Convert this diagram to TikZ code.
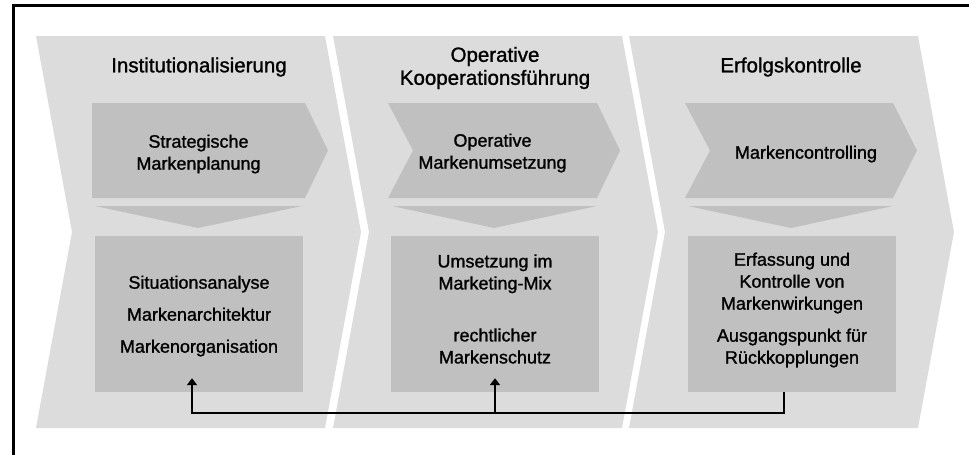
\documentclass[tikz,border=0pt]{standalone}
\usepackage{fontspec}
\setmainfont{Liberation Sans}[FakeBold=1.2]
\usetikzlibrary{arrows.meta}
\definecolor{phaselight}{RGB}{220,220,220}
\definecolor{phasedark}{RGB}{192,192,192}

\begin{document}
\begin{tikzpicture}[
  x=1pt, y=-1pt,
  phase/.style={fill=phaselight},
  stage/.style={fill=phasedark},
  box/.style={rectangle,fill=phasedark,minimum width=208pt,minimum height=156pt,inner sep=0pt},
  title/.style={align=center,inner sep=0pt,font=\fontsize{20.5}{23}\selectfont},
  body/.style={align=center,inner sep=0pt,font=\fontsize{18}{22}\selectfont},
  link/.style={line width=1.8pt,-{Triangle[length=7pt,width=10pt]}}
  ]
  \useasboundingbox (0,0) rectangle (969,455);
  % frame
  \draw[line width=2.5pt] (13.5,455) -- (13.5,5.5) -- (969,5.5);
  % the three phases
  \fill[phase] (36,36) -- (325,36) -- (361,232) -- (325,428) -- (36,428) -- (72,232) -- cycle;
  \fill[phase] (333,36) -- (622,36) -- (658,232) -- (622,428) -- (333,428) -- (369,232) -- cycle;
  \fill[phase] (629,36) -- (918,36) -- (954,232) -- (918,428) -- (629,428) -- (665,232) -- cycle;
  \fill[stage] (92,103) -- (305,103) -- (328,150.5) -- (305,198) -- (92,198) -- cycle;
  \fill[stage] (388,103) -- (597,103) -- (620,150.5) -- (597,198) -- (388,198) -- (413,150.5) -- cycle;
  \fill[stage] (685,103) -- (893,103) -- (917,150.5) -- (893,198) -- (685,198) -- (710,150.5) -- cycle;
  \fill[stage] (95,206) -- (302,206) -- (198,228) -- cycle;
  \fill[stage] (392,206) -- (597,206) -- (494,228) -- cycle;
  \fill[stage] (688,206) -- (893,206) -- (791,228) -- cycle;

  \node[title] (inst) at (199,67) {Institutionalisierung};
  \node[title] (oper) at (495,68) {Operative\\Kooperationsführung};
  \node[title] (erf) at (791,67) {Erfolgskontrolle};

  \node[body] (plan) at (198.5,154) {Strategische\\Markenplanung};
  \node[body] (ums) at (492.5,153) {Operative\\Markenumsetzung};
  \node[body] (ctrl) at (806,154) {Markencontrolling};

  \node[box] (a) at (199,314) {};
  \node[box] (b) at (495,314) {};
  \node[box] (c) at (792,314) {};
  \node[body] (at) at (199,316) {Situationsanalyse\\[10pt]Markenarchitektur\\[10pt]Markenorganisation};
  \node[body] (bt) at (495,309) {Umsetzung im\\Marketing-Mix\\[30pt]rechtlicher\\Markenschutz};
  \node[body] (ct) at (792,310) {Erfassung und\\Kontrolle von\\Markenwirkungen\\[10pt]Ausgangspunkt für\\Rückkopplungen};

  % feedback
  \coordinate (back) at (192,413);
  \draw[link] ([xshift=-8pt]c.south) |- (back) -- ([xshift=-7pt,yshift=14pt]a.south);
  \draw[link] (b.south |- back) -- ([yshift=14pt]b.south);
\end{tikzpicture}
\end{document}
